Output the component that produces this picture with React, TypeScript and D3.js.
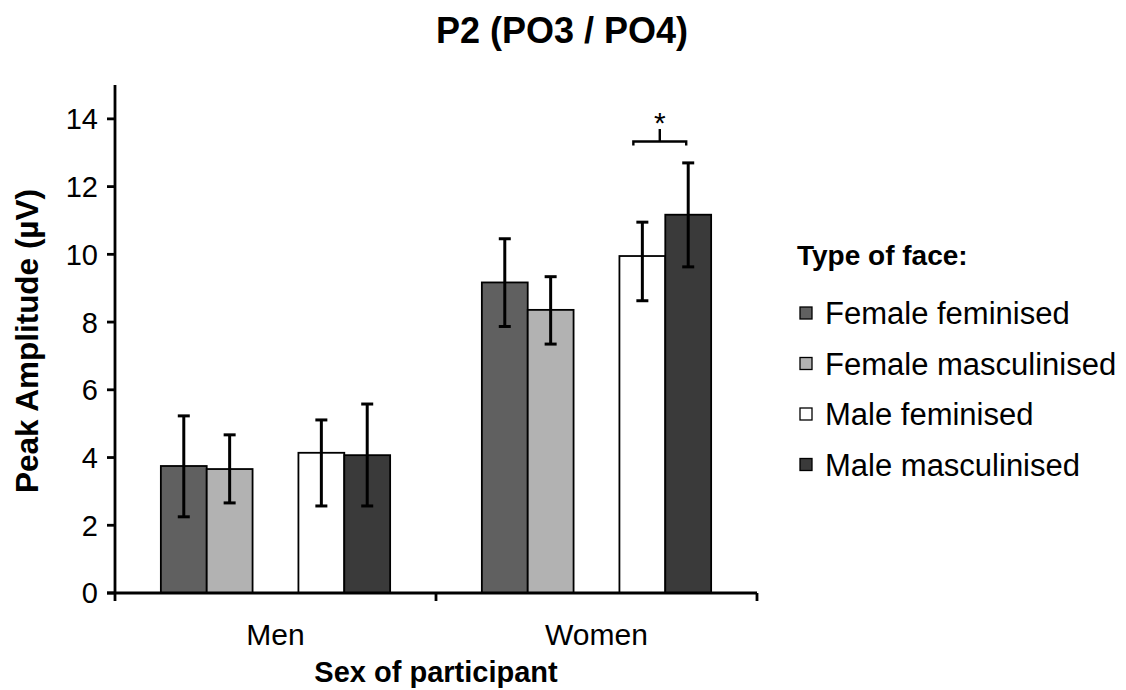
import React from 'react';
import * as d3 from 'd3';

const groups = ['Men', 'Women'];
const faceTypes = ['Female feminised', 'Female masculinised', 'Male feminised', 'Male masculinised'];
// Excel leaves an empty slot between the female and the male faces
const slots = ['Female feminised', 'Female masculinised', '', 'Male feminised', 'Male masculinised'];
const faceColors = ['#606060', '#b2b2b2', '#ffffff', '#3a3a3a'];

const menMeans = [3.75, 3.66, 4.14, 4.07];
const menErrUp = [1.48, 1.01, 0.97, 1.51];
const menErrDown = [1.5, 1.0, 1.57, 1.5];
const womenMeans = [9.17, 8.36, 9.95, 11.17];
const womenErrUp = [1.29, 0.98, 1.0, 1.53];
const womenErrDown = [1.3, 1.01, 1.32, 1.54];

const yTicks = [0, 2, 4, 6, 8, 10, 12, 14];

const font = '"Liberation Sans", Arial, sans-serif';

export default function App() {
  const width = 1126;
  const height = 690;
  const left = 115;
  const right = 757;
  const top = 85;
  const bottom = 593;

  const x = d3.scaleBand<string>().domain(groups).range([left, right]).paddingInner(0).paddingOuter(0);
  const xs = d3.scaleBand<string>().domain(slots).range([0, x.bandwidth()]).paddingInner(0).paddingOuter(1);
  const y = d3.scaleLinear().domain([0, 15]).range([bottom, top]);

  const bars = groups.flatMap((g, gi) => {
    const means = gi === 0 ? menMeans : womenMeans;
    const up = gi === 0 ? menErrUp : womenErrUp;
    const down = gi === 0 ? menErrDown : womenErrDown;
    return faceTypes.map((f, i) => ({ group: g, face: f, i, value: means[i], up: up[i], down: down[i] }));
  });

  const bw = xs.bandwidth();
  const cx = (g: string, f: string) => (x(g) ?? 0) + (xs(f) ?? 0) + bw / 2;

  // significance bracket between male faces for women
  const bx1 = cx('Women', 'Male feminised') - 9;
  const bx2 = cx('Women', 'Male masculinised') - 2;
  const bmid = (bx1 + bx2) / 2;
  const by = y(13.33);

  const legendX = 800;
  const legendY0 = 313;
  const legendStep = 50.5;

  return (
    <div style={{ position: 'absolute', left: 0, top: 0 }}>
      <svg width={width} height={height} style={{ display: 'block', background: '#fff' }} fontFamily={font}>
        {/* title */}
        <text x={562} y={43} textAnchor="middle" fontSize={36} fontWeight="bold" fill="#000">
          P2 (PO3 / PO4)
        </text>

        {/* bars */}
        {bars.map((d) => (
          <rect
            key={d.group + d.face}
            x={(x(d.group) ?? 0) + (xs(d.face) ?? 0)}
            y={y(d.value)}
            width={bw}
            height={y(0) - y(d.value)}
            fill={faceColors[d.i]}
            stroke="#000"
            strokeWidth={1.8}
          />
        ))}

        {/* error bars */}
        {bars.map((d) => {
          const c = cx(d.group, d.face);
          const y1 = y(d.value + d.up);
          const y2 = y(d.value - d.down);
          return (
            <g key={'e' + d.group + d.face} stroke="#000" strokeWidth={3}>
              <line x1={c} x2={c} y1={y1} y2={y2} />
              <line x1={c - 6} x2={c + 6} y1={y1} y2={y1} />
              <line x1={c - 6} x2={c + 6} y1={y2} y2={y2} />
            </g>
          );
        })}

        {/* y axis */}
        <g stroke="#000" strokeWidth={2.8}>
          <line x1={left} x2={left} y1={top} y2={bottom} />
          {yTicks.map((t) => (
            <line key={t} x1={left - 8} x2={left} y1={y(t)} y2={y(t)} />
          ))}
        </g>
        {yTicks.map((t) => (
          <text key={'t' + t} x={left - 17} y={y(t)} dy="0.36em" textAnchor="end" fontSize={29} fill="#000">
            {t}
          </text>
        ))}

        {/* x axis */}
        <g stroke="#000" strokeWidth={2.8}>
          <line x1={left - 8} x2={right} y1={bottom} y2={bottom} />
          {[left, ...groups.map((g) => (x(g) ?? 0) + x.bandwidth())].map((p, i) => (
            <line key={i} x1={p} x2={p} y1={bottom} y2={bottom + 8} />
          ))}
        </g>
        {groups.map((g) => (
          <text key={g} x={(x(g) ?? 0) + x.bandwidth() / 2} y={645} textAnchor="middle" fontSize={30} fill="#000">
            {g}
          </text>
        ))}

        {/* axis titles */}
        <text x={436} y={682} textAnchor="middle" fontSize={29} fontWeight="bold" fill="#000">
          Sex of participant
        </text>
        <text
          transform={`translate(38, 341) rotate(-90)`}
          textAnchor="middle"
          fontSize={31.5}
          fontWeight="bold"
          fill="#000"
        >
          Peak Amplitude (µV)
        </text>

        {/* significance */}
        <path
          d={`M${bx1},${by + 4} L${bx1},${by} L${bx2},${by} L${bx2},${by + 4} M${bmid},${by} L${bmid},${y(13.7)}`}
          fill="none"
          stroke="#000"
          strokeWidth={2.4}
        />
        <text x={bmid} y={133} textAnchor="middle" fontSize={30} fill="#000">
          *
        </text>

        {/* legend */}
        <text x={legendX - 3} y={265} fontSize={28} fontWeight="bold" fill="#000">
          Type of face:
        </text>
        {faceTypes.map((f, i) => (
          <g key={f} transform={`translate(${legendX}, ${legendY0 + i * legendStep})`}>
            <rect x={0} y={-6} width={12} height={12} fill={faceColors[i]} stroke="#000" strokeWidth={1.3} />
            <text x={25} y={0} dy="0.36em" fontSize={31} fill="#000">
              {f}
            </text>
          </g>
        ))}
      </svg>
    </div>
  );
}
